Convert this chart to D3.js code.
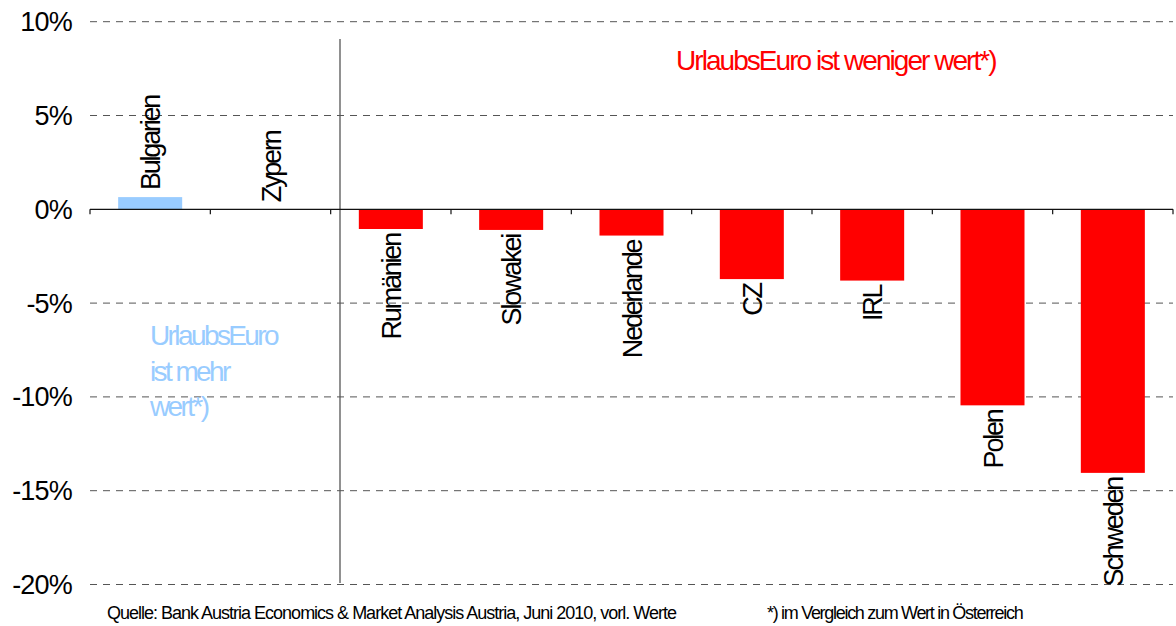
<!DOCTYPE html>
<html>
<head>
<meta charset="utf-8">
<script src="https://cdn.jsdelivr.net/npm/d3@7"></script>
<style>
  html, body { margin: 0; padding: 0; background: #fff; }
  svg { display: block; font-family: "Liberation Sans", Arial, sans-serif; }
</style>
</head>
<body>
<svg id="chart" width="1176" height="626"></svg>
<script>
// ---- data ----
const categories = ["Bulgarien", "Zypern", "Rumänien", "Slowakei", "Nederlande", "CZ", "IRL", "Polen", "Schweden"];
const values = [0.65, 0, -1.05, -1.1, -1.4, -3.72, -3.8, -10.45, -14.05];
const tickValues = [10, 5, 0, -5, -10, -15, -20];
const tickLabels = ["10%", "5%", "0%", "-5%", "-10%", "-15%", "-20%"];
const noteRed = "UrlaubsEuro ist weniger wert*)";
const noteBlue = ["UrlaubsEuro", "ist mehr", "wert*)"];
const sourceText = "Quelle: Bank Austria Economics & Market Analysis Austria, Juni 2010, vorl. Werte";
const footnoteText = "*) im Vergleich zum Wert in Österreich";

const RED = "#ff0000", BLUE = "#99ccff";

const svg = d3.select("#chart");
const plotLeft = 90, plotRight = 1173, plotTop = 21.7, plotBottom = 584.5;

const x = d3.scaleBand().domain(categories).range([plotLeft, plotRight])
  .paddingInner(0.468).paddingOuter(0.234);
const y = d3.scaleLinear().domain([-20, 10]).range([plotBottom, plotTop]);
const step = x.step();

// gridlines (dashed) except zero
svg.append("g").selectAll("line")
  .data(tickValues.filter(v => v !== 0))
  .join("line")
  .attr("x1", plotLeft).attr("x2", plotRight)
  .attr("y1", d => y(d)).attr("y2", d => y(d))
  .attr("stroke", "#555").attr("stroke-width", 1)
  .attr("stroke-dasharray", "7,6");

// y tick labels
svg.append("g").selectAll("text")
  .data(tickValues)
  .join("text")
  .attr("x", 72).attr("y", d => y(d))
  .attr("dy", "0.35em")
  .attr("text-anchor", "end")
  .attr("font-size", 27)
  .attr("letter-spacing", -0.8)
  .attr("fill", "#000")
  .text((d, i) => tickLabels[i]);

// separator vertical line
svg.append("line")
  .attr("x1", 340).attr("x2", 340)
  .attr("y1", 39).attr("y2", 583)
  .attr("stroke", "#555").attr("stroke-width", 1.3);

// bars
svg.append("g").selectAll("rect")
  .data(categories)
  .join("rect")
  .attr("x", d => x(d))
  .attr("width", x.bandwidth())
  .attr("y", (d, i) => y(Math.max(0, values[i])))
  .attr("height", (d, i) => Math.abs(y(values[i]) - y(0)))
  .attr("fill", (d, i) => values[i] > 0 ? BLUE : RED);

// zero axis with ticks
const y0 = y(0);
svg.append("line")
  .attr("x1", plotLeft).attr("x2", plotRight)
  .attr("y1", y0).attr("y2", y0)
  .attr("stroke", "#111").attr("stroke-width", 1.2);
svg.append("g").selectAll("line")
  .data(d3.range(categories.length + 1))
  .join("line")
  .attr("x1", i => plotLeft + i * step).attr("x2", i => plotLeft + i * step)
  .attr("y1", y0).attr("y2", y0 + 5)
  .attr("stroke", "#111").attr("stroke-width", 1.2);

// category labels (rotated)
svg.append("g").selectAll("text")
  .data(categories)
  .join("text")
  .attr("transform", (d, i) => {
    const cx = x(d) + x.bandwidth() / 2 + 10;
    const v = values[i];
    const yy = v >= 0 ? y(v) - 7 : y(v) + 5;
    return `translate(${cx},${yy}) rotate(-90)`;
  })
  .attr("text-anchor", (d, i) => values[i] >= 0 ? "start" : "end")
  .attr("font-size", 27)
  .attr("letter-spacing", -2.2)
  .attr("fill", "#000")
  .text(d => d);

// red note
svg.append("text")
  .attr("x", 676).attr("y", 70)
  .attr("font-size", 28)
  .attr("letter-spacing", -1.95)
  .attr("fill", RED)
  .text(noteRed);

// blue note
svg.append("g").selectAll("text")
  .data(noteBlue)
  .join("text")
  .attr("x", 150).attr("y", (d, i) => 345 + i * 35.5)
  .attr("font-size", 28)
  .attr("letter-spacing", -2.6)
  .attr("fill", BLUE)
  .text(d => d);

// footer
svg.append("text")
  .attr("x", 107).attr("y", 619)
  .attr("font-size", 18)
  .attr("letter-spacing", -1.0)
  .attr("fill", "#000")
  .text(sourceText);
svg.append("text")
  .attr("x", 767).attr("y", 619)
  .attr("font-size", 18)
  .attr("letter-spacing", -1.3)
  .attr("fill", "#000")
  .text(footnoteText);
</script>
</body>
</html>
